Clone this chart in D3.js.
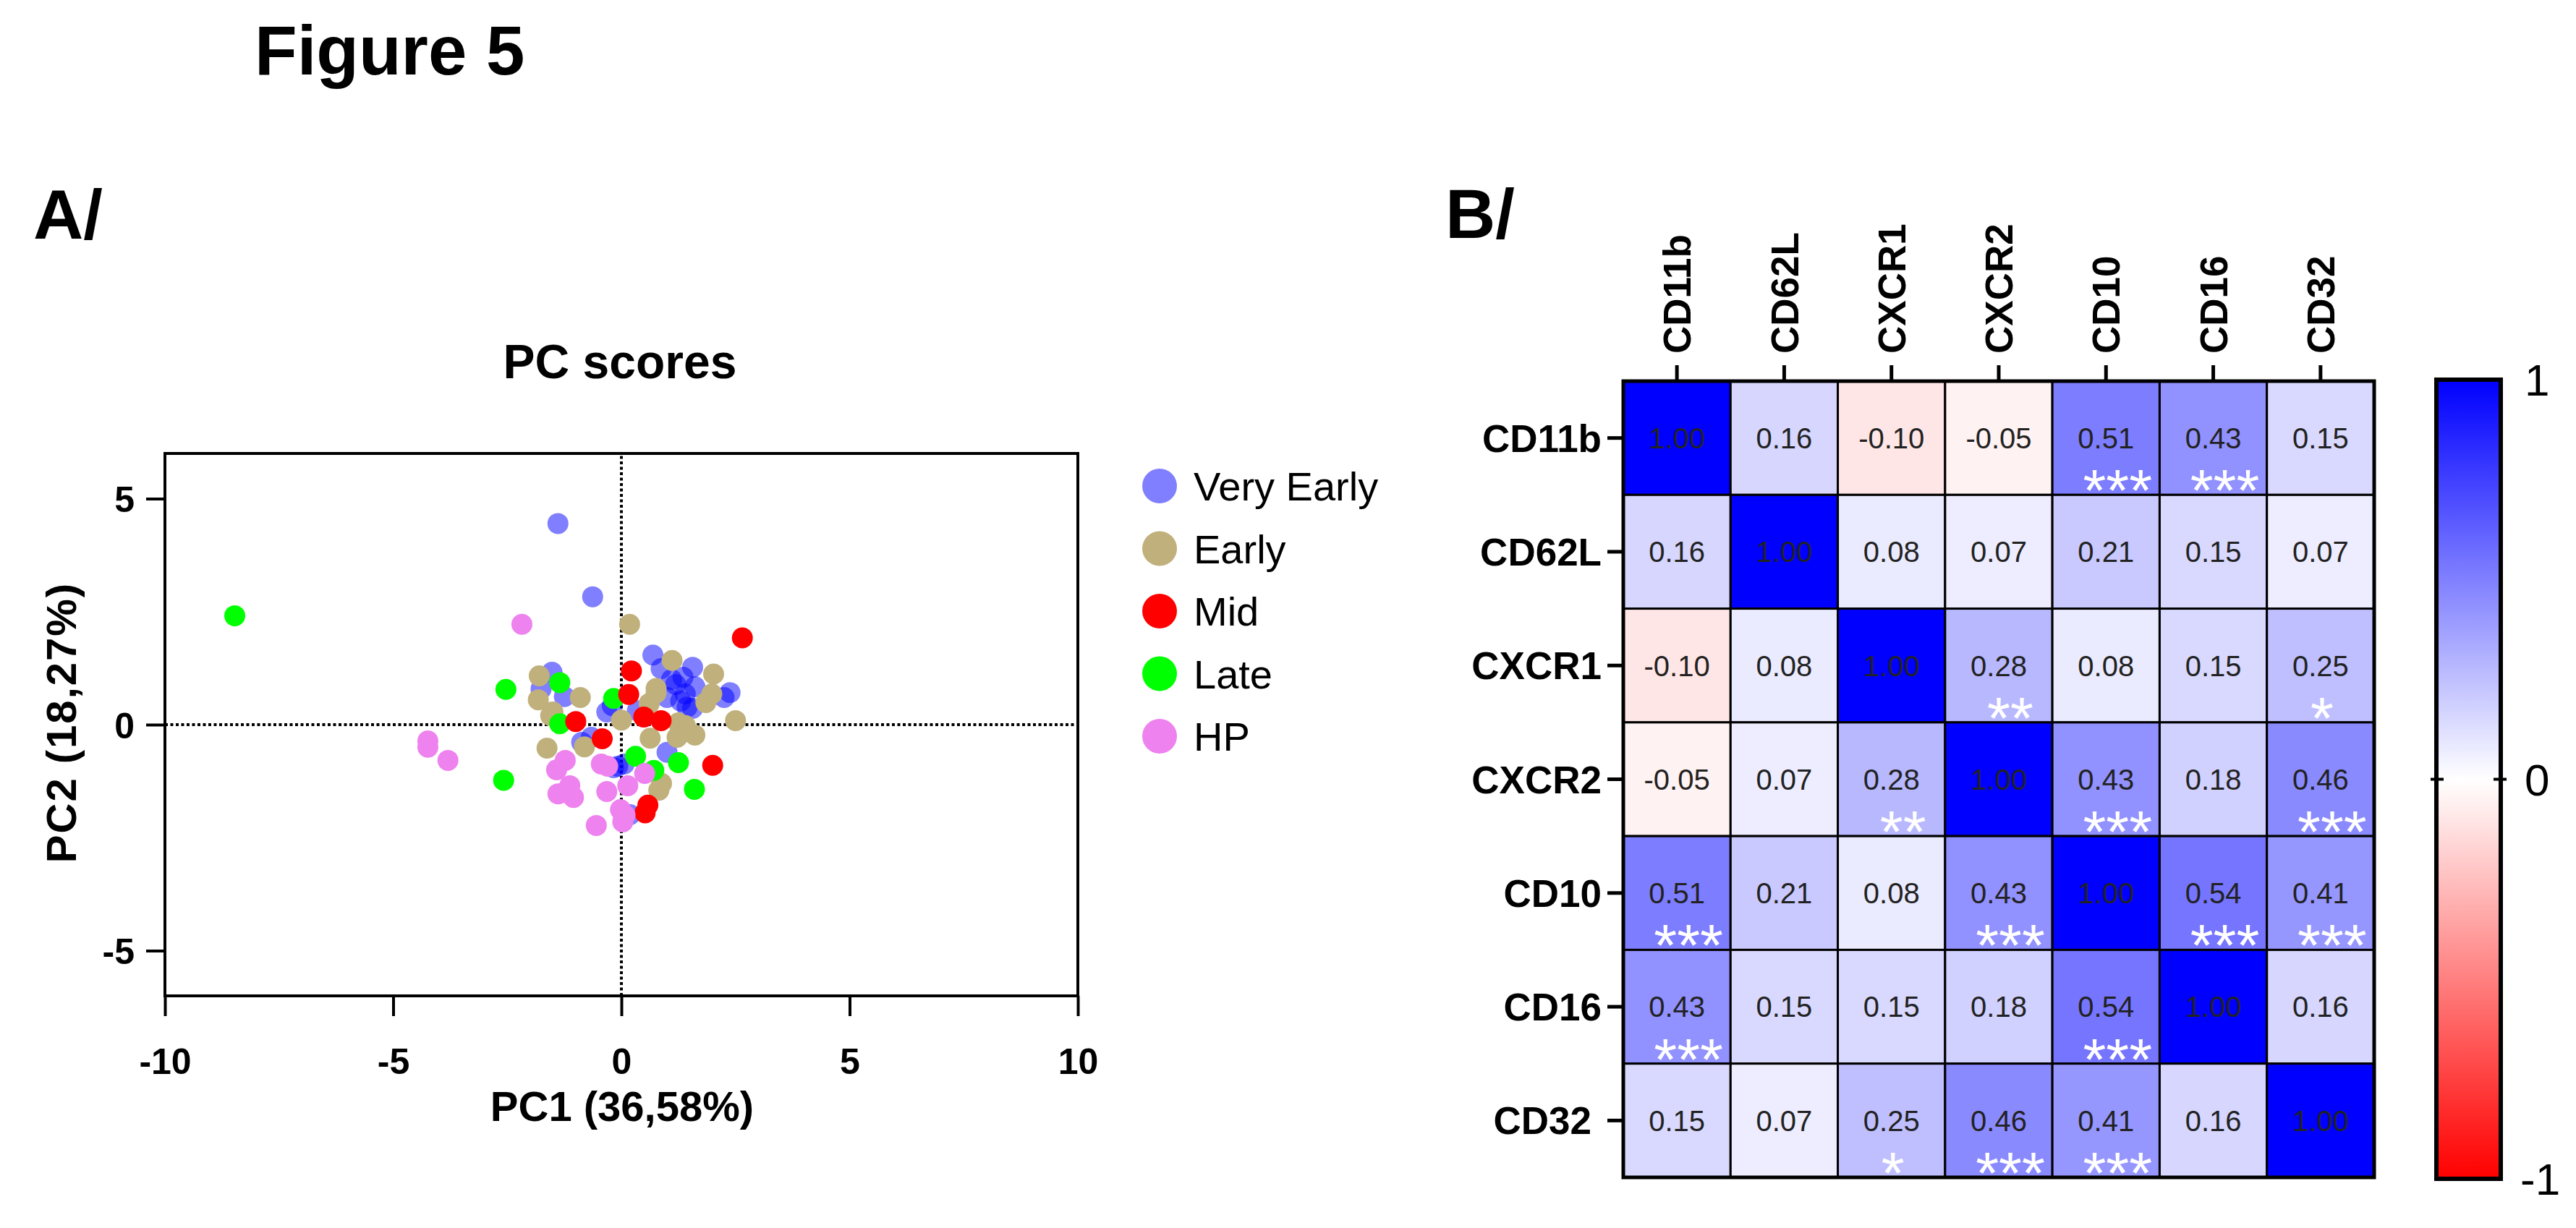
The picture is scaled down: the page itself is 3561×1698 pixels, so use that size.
<!DOCTYPE html>
<html>
<head>
<meta charset="utf-8">
<script src="https://cdn.jsdelivr.net/npm/d3@7"></script>
<style>
  body { margin: 0; background: #fff; }
  svg { display: block; }
  text { font-family: "Liberation Sans", Arial, sans-serif; }
</style>
</head>
<body>
<script>
// ---------------- DATA ----------------
const groupNames = ["Very Early", "Early", "Mid", "Late", "HP"];
const groupColors = ["#0000ff", "#c0b07c", "#ff0000", "#00ff00", "#ee82ee"];
const groupOpacity = [0.5, 1, 1, 1, 1];

const veryEarly = [[-1.39,4.45],[-0.63,2.83],[-1.52,1.16],[-1.76,0.79],[-1.25,0.62],[-0.32,0.28],[-0.20,0.42],
  [0.69,1.54],[1.56,1.27],[0.87,1.24],[1.19,0.89],[1.40,0.68],[1.61,0.84],[1.30,0.52],[1.56,0.36],[1.35,1.05],
  [2.38,0.71],[2.25,0.60],[0.35,0.31],[1.00,-0.61],[0.06,-0.87],[0.19,-1.99],[-0.87,-0.39],[-0.08,-0.92],
  [-0.66,-0.28],[1.44,0.39],[1.10,1.00],[1.00,0.60],[-0.17,-0.95]];
const early = [[0.18,2.22],[-1.80,1.08],[-1.82,0.55],[-0.90,0.60],[-1.50,0.28],[0.00,0.10],[1.11,1.42],[2.02,1.12],
  [0.76,0.80],[0.76,0.70],[0.61,0.47],[1.98,0.68],[1.85,0.49],[2.50,0.09],[1.25,0.04],[0.63,-0.30],[1.22,-0.28],
  [1.61,-0.23],[1.40,-0.02],[0.82,-1.45],[0.88,-1.30],[-1.63,-0.52],[-0.81,-0.49],[-1.55,0.20],[1.45,-0.15]];
const mid = [[0.22,1.19],[0.16,0.67],[-1.00,0.07],[-0.42,-0.31],[0.49,0.17],[0.87,0.09],[2.00,-0.90],[2.65,1.92],
  [0.58,-1.78],[0.52,-1.95]];
const late = [[-8.47,2.41],[-2.53,0.78],[-1.35,0.93],[-0.17,0.58],[-1.35,0.02],[-2.58,-1.23],[0.31,-0.70],
  [0.71,-1.01],[1.25,-0.84],[1.60,-1.43]];
const hp = [[-2.18,2.22],[-4.24,-0.36],[-4.24,-0.50],[-3.80,-0.79],[-1.23,-0.79],[-1.42,-1.00],[-0.44,-0.87],
  [-0.30,-0.92],[-1.13,-1.35],[-1.39,-1.53],[-1.05,-1.61],[-1.25,-1.50],[-0.32,-1.48],[0.14,-1.35],[0.51,-1.08],
  [-0.02,-1.88],[0.03,-2.15],[-0.55,-2.23],[0.08,-2.00]];
const groupData = [veryEarly, early, mid, late, hp];
const drawOrder = [0, 1, 3, 2, 4];

const xTicks = [-10, -5, 0, 5, 10];
const yTicks = [-5, 0, 5];

const markers = ["CD11b", "CD62L", "CXCR1", "CXCR2", "CD10", "CD16", "CD32"];
const corr = [
  [1.00, 0.16, -0.10, -0.05, 0.51, 0.43, 0.15],
  [0.16, 1.00, 0.08, 0.07, 0.21, 0.15, 0.07],
  [-0.10, 0.08, 1.00, 0.28, 0.08, 0.15, 0.25],
  [-0.05, 0.07, 0.28, 1.00, 0.43, 0.18, 0.46],
  [0.51, 0.21, 0.08, 0.43, 1.00, 0.54, 0.41],
  [0.43, 0.15, 0.15, 0.18, 0.54, 1.00, 0.16],
  [0.15, 0.07, 0.25, 0.46, 0.41, 0.16, 1.00]
];
const stars = [
  ["", "", "", "", "***", "***", ""],
  ["", "", "", "", "", "", ""],
  ["", "", "", "**", "", "", "*"],
  ["", "", "**", "", "***", "", "***"],
  ["***", "", "", "***", "", "***", "***"],
  ["***", "", "", "", "***", "", ""],
  ["", "", "*", "***", "***", "", ""]
];
const colorbarTicks = [-1, 0, 1];

// ---------------- SVG ----------------
const W = 3561, H = 1698;
const svg = d3.select("body").append("svg").attr("width", W).attr("height", H);
svg.append("rect").attr("width", W).attr("height", H).attr("fill", "#fff");

svg.append("text").attr("x", 352).attr("y", 103).attr("font-size", 96).attr("font-weight", "bold").text("Figure 5");
svg.append("text").attr("x", 46).attr("y", 330).attr("font-size", 96).attr("font-weight", "bold").text("A/");
svg.append("text").attr("x", 1998).attr("y", 329).attr("font-size", 96).attr("font-weight", "bold").text("B/");

// ---------------- PANEL A: scatter ----------------
const x = d3.scaleLinear().domain([-10, 10]).range([228, 1490]);
const y = d3.scaleLinear().domain([-6, 6]).range([1377, 627]);
const plainNum = d => String(d);

svg.append("text").attr("x", 857).attr("y", 523).attr("text-anchor", "middle")
  .attr("font-size", 66).attr("font-weight", "bold").text("PC scores");

const gA = svg.append("g");

// zero lines
gA.append("line").attr("x1", x(-10)).attr("x2", x(10)).attr("y1", y(0)).attr("y2", y(0))
  .attr("stroke", "#000").attr("stroke-width", 4).attr("stroke-dasharray", "4 3.5");
gA.append("line").attr("x1", x(0)).attr("x2", x(0)).attr("y1", y(-6)).attr("y2", y(6))
  .attr("stroke", "#000").attr("stroke-width", 4).attr("stroke-dasharray", "4 3.5");

// points
drawOrder.forEach(gi => {
  gA.append("g").selectAll("circle").data(groupData[gi]).join("circle")
    .attr("cx", d => x(d[0])).attr("cy", d => y(d[1])).attr("r", 14.5)
    .attr("fill", groupColors[gi]).attr("fill-opacity", groupOpacity[gi]);
});

// frame
gA.append("rect").attr("x", x(-10)).attr("y", y(6)).attr("width", x(10) - x(-10)).attr("height", y(-6) - y(6))
  .attr("fill", "none").attr("stroke", "#000").attr("stroke-width", 4);

// axes
const xAxis = gA.append("g").attr("transform", `translate(0,${y(-6)})`)
  .call(d3.axisBottom(x).tickValues(xTicks).tickSize(28).tickPadding(44).tickFormat(plainNum));
const yAxis = gA.append("g").attr("transform", `translate(${x(-10)},0)`)
  .call(d3.axisLeft(y).tickValues(yTicks).tickSize(26).tickPadding(16).tickFormat(plainNum));
[xAxis, yAxis].forEach(a => {
  a.select(".domain").remove();
  a.selectAll(".tick line").attr("stroke", "#000").attr("stroke-width", 4);
  a.selectAll(".tick text").attr("fill", "#000").attr("font-size", 50).attr("font-weight", "bold")
    .attr("font-family", "'Liberation Sans', Arial, sans-serif");
});
yAxis.selectAll(".tick text").attr("dy", "0.36em");
xAxis.selectAll(".tick text").attr("dy", "0.71em");

svg.append("text").attr("x", 860).attr("y", 1550).attr("text-anchor", "middle")
  .attr("font-size", 58).attr("font-weight", "bold").text("PC1 (36,58%)");
svg.append("text").attr("transform", "translate(105,999) rotate(-90)").attr("text-anchor", "middle")
  .attr("font-size", 58).attr("font-weight", "bold").attr("letter-spacing", 2).text("PC2 (18,27%)");

// legend
const leg = svg.append("g").selectAll("g").data(groupNames).join("g")
  .attr("transform", (d, i) => `translate(1603,${672 + i * 86.5})`);
leg.append("circle").attr("r", 24).attr("fill", (d, i) => groupColors[i]).attr("fill-opacity", (d, i) => groupOpacity[i]);
leg.append("text").attr("x", 47).attr("dy", "0.36em").attr("font-size", 56).text(d => d);

// ---------------- PANEL B: heatmap ----------------
const hx = d3.scaleBand().domain(markers).range([2244, 3282]);
const hy = d3.scaleBand().domain(markers).range([527, 1628]);
const color = d3.scaleLinear().domain([-1, 0, 1]).range(["#ff0000", "#ffffff", "#0000ff"]);

const cells = [];
markers.forEach((r, i) => markers.forEach((c, j) => cells.push({ r, c, v: corr[i][j], s: stars[i][j] })));

const gB = svg.append("g");
gB.selectAll("rect.cell").data(cells).join("rect").attr("class", "cell")
  .attr("x", d => hx(d.c)).attr("y", d => hy(d.r)).attr("width", hx.bandwidth()).attr("height", hy.bandwidth())
  .attr("fill", d => color(d.v)).attr("stroke", "#000").attr("stroke-width", 3);
gB.append("rect").attr("x", 2244).attr("y", 527).attr("width", 3282 - 2244).attr("height", 1628 - 527)
  .attr("fill", "none").attr("stroke", "#000").attr("stroke-width", 5);

gB.selectAll("text.val").data(cells).join("text").attr("class", "val")
  .attr("x", d => hx(d.c) + hx.bandwidth() / 2).attr("y", d => hy(d.r) + hy.bandwidth() / 2)
  .attr("dy", "0.36em").attr("text-anchor", "middle").attr("font-size", 40).attr("fill", "#222")
  .text(d => d.v.toFixed(2));

gB.selectAll("text.star").data(cells.filter(d => d.s)).join("text").attr("class", "star")
  .attr("x", d => hx(d.c) + hx.bandwidth() / 2 + (d.s.length > 1 ? 16 : 2))
  .attr("y", d => hy(d.r) + hy.bandwidth() + 22)
  .attr("text-anchor", "middle").attr("font-size", 82).attr("fill", "#fff")
  .text(d => d.s);

// heatmap axes
const topAxis = gB.append("g").attr("transform", "translate(0,527)")
  .call(d3.axisTop(hx).tickSize(22).tickPadding(10));
const leftAxis = gB.append("g").attr("transform", "translate(2244,0)")
  .call(d3.axisLeft(hy).tickSize(22).tickPadding(8));
[topAxis, leftAxis].forEach(a => {
  a.select(".domain").remove();
  a.selectAll(".tick line").attr("stroke", "#000").attr("stroke-width", 5);
  a.selectAll(".tick text").attr("fill", "#000").attr("font-size", 53).attr("font-weight", "bold")
    .attr("font-family", "'Liberation Sans', Arial, sans-serif");
});
topAxis.selectAll(".tick text").attr("text-anchor", "start").attr("transform", "rotate(-90)")
  .attr("x", 38).attr("y", 0).attr("dy", "0.36em");
leftAxis.selectAll(".tick text").attr("dy", "0.36em").attr("dx", d => d === "CD32" ? -14 : 0);

// colorbar
const cb = { x: 3368, w: 89 };
const cy = d3.scaleLinear().domain([-1, 1]).range([1630, 525]);
const defs = svg.append("defs");
const grad = defs.append("linearGradient").attr("id", "cbgrad").attr("x1", 0).attr("y1", 1).attr("x2", 0).attr("y2", 0);
d3.range(-1, 1.0001, 0.1).forEach(v => {
  grad.append("stop").attr("offset", (v + 1) / 2).attr("stop-color", color(v));
});
svg.append("rect").attr("x", cb.x).attr("y", cy(1)).attr("width", cb.w).attr("height", cy(-1) - cy(1))
  .attr("fill", "url(#cbgrad)").attr("stroke", "#000").attr("stroke-width", 6);
svg.append("line").attr("x1", cb.x - 8).attr("x2", cb.x + 10).attr("y1", cy(0)).attr("y2", cy(0))
  .attr("stroke", "#000").attr("stroke-width", 4);
svg.append("line").attr("x1", cb.x + cb.w - 10).attr("x2", cb.x + cb.w + 8).attr("y1", cy(0)).attr("y2", cy(0))
  .attr("stroke", "#000").attr("stroke-width", 4);
svg.append("g").selectAll("text").data(colorbarTicks).join("text")
  .attr("x", d => d < 0 ? 3484 : 3490).attr("y", d => cy(d)).attr("dy", "0.36em")
  .attr("font-size", 62).text(d => String(d));
</script>
</body>
</html>
